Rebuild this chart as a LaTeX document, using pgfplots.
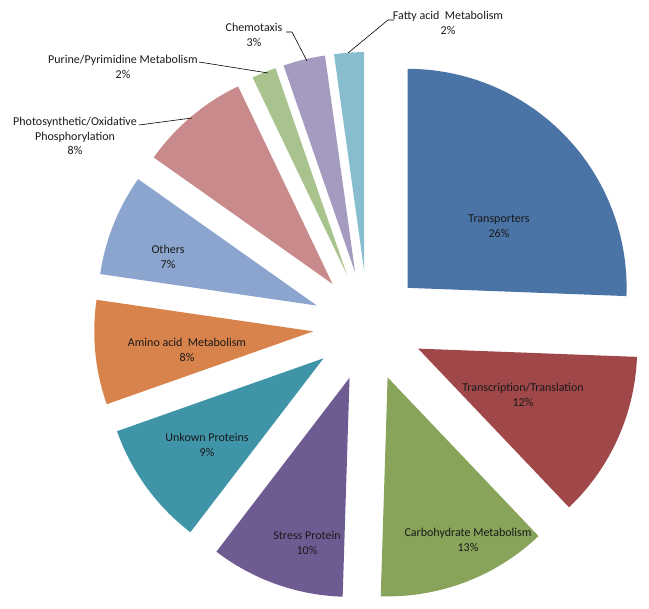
\documentclass[border=0pt]{standalone}
\usepackage{pgfplots}
\pgfplotsset{compat=1.18}
\usepackage{fontspec}
\setmainfont{Carlito}
\definecolor{c1}{HTML}{4A73A6}
\definecolor{c2}{HTML}{A0474A}
\definecolor{c3}{HTML}{87A45A}
\definecolor{c4}{HTML}{6E5B92}
\definecolor{c5}{HTML}{3F94A8}
\definecolor{c6}{HTML}{D8834B}
\definecolor{c7}{HTML}{8CA5CE}
\definecolor{c8}{HTML}{C98A8B}
\definecolor{c9}{HTML}{A9C38E}
\definecolor{c10}{HTML}{A59BC0}
\definecolor{c11}{HTML}{88BDD0}
\def\cx{368}\def\cy{283}\def\R{219}\def\D{55}
\tikzset{lbl/.style={font=\fontsize{12bp}{14.5bp}\selectfont,text=black!90,align=center,inner sep=0pt}}
\begin{document}
\begin{tikzpicture}
\begin{axis}[x=1bp,y=1bp,xmin=0,xmax=649,ymin=0,ymax=609,hide axis,clip=false,scale only axis]
\path (axis cs:0,0) rectangle (axis cs:649,609);
\xdef\start{90}
% share of each category (percent), clockwise from 12 o'clock
\foreach \p/\c in {25.6/c1,12.3/c2,12.6/c3,9.9/c4,9.2/c5,7.7/c6,7.5/c7,8.1/c8,1.8/c9,3.1/c10,2.2/c11} {
  \pgfmathsetmacro\en{\start-3.6*\p}
  \pgfmathsetmacro\mid{(\start+\en)/2}
  \pgfmathsetmacro\ax{\cx+\D*cos(\mid)}
  \pgfmathsetmacro\ay{\cy+\D*sin(\mid)}
  \edef\temp{\noexpand\addplot[fill=\c,draw=none,domain=\en:\start,samples=60,variable=\noexpand\t]
    ({\ax+\R*cos(\noexpand\t)},{\ay+\R*sin(\noexpand\t)}) -- (axis cs:\ax,\ay) -- cycle;}
  \temp
  \xdef\start{\en}
}
\node[lbl] at (axis cs:499,383) {Transporters\\26\%};
\node[lbl] at (axis cs:523,214) {Transcription/Translation\\12\%};
\node[lbl] at (axis cs:468,69) {Carbohydrate Metabolism\\13\%};
\node[lbl] at (axis cs:307,66) {Stress Protein\\10\%};
\node[lbl] at (axis cs:207,164) {Unkown Proteins\\9\%};
\node[lbl] at (axis cs:187,259) {Amino acid\ \ Metabolism\\8\%};
\node[lbl] at (axis cs:168,352) {Others\\7\%};
\node[lbl] at (axis cs:75,473) {Photosynthetic/Oxidative\\Phosphorylation\\8\%};
\node[lbl] at (axis cs:123,542) {Purine/Pyrimidine Metabolism\\2\%};
\node[lbl] at (axis cs:254,574) {Chemotaxis\\3\%};
\node[lbl] at (axis cs:448,586) {Fatty acid\ \ Metabolism\\2\%};
\draw[black,line width=0.6pt] (axis cs:139,484) -- (axis cs:192,491);
\draw[black,line width=0.6pt] (axis cs:199,547) -- (axis cs:268,536);
\draw[black,line width=0.6pt] (axis cs:286,577) -- (axis cs:292,577) -- (axis cs:307,548);
\draw[black,line width=0.6pt] (axis cs:394,589) -- (axis cs:388,589) -- (axis cs:348,556);
\end{axis}
\end{tikzpicture}
\end{document}
